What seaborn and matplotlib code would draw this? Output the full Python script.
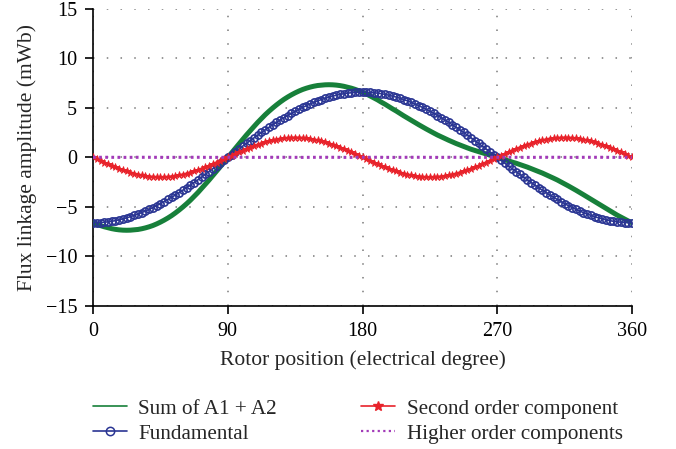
import numpy as np
import pandas as pd
import matplotlib
matplotlib.use("Agg")
import matplotlib.pyplot as plt
from matplotlib.lines import Line2D
import seaborn as sns

# Rotor position in electrical degrees, sampled every 2.5 degrees
angle = np.linspace(0, 360, 145)

# Flux linkage components (mWb)
fundamental = [
    -6.60, -6.59, -6.57, -6.54, -6.50, -6.44, -6.38, -6.29, -6.20, -6.10, -5.98, -5.85, -5.72,
    -5.57, -5.41, -5.24, -5.06, -4.87, -4.67, -4.46, -4.24, -4.02, -3.79, -3.55, -3.30, -3.05,
    -2.79, -2.53, -2.26, -1.98, -1.71, -1.43, -1.15, -0.86, -0.58, -0.29, 0.00,
    0.29, 0.58, 0.86, 1.15, 1.43, 1.71, 1.98, 2.26, 2.53, 2.79, 3.05, 3.30, 3.55, 3.79, 4.02,
    4.24, 4.46, 4.67, 4.87, 5.06, 5.24, 5.41, 5.57, 5.72, 5.85, 5.98, 6.10, 6.20, 6.29, 6.38,
    6.44, 6.50, 6.54, 6.57, 6.59, 6.60,
    6.59, 6.57, 6.54, 6.50, 6.44, 6.38, 6.29, 6.20, 6.10, 5.98, 5.85, 5.72, 5.57, 5.41, 5.24,
    5.06, 4.87, 4.67, 4.46, 4.24, 4.02, 3.79, 3.55, 3.30, 3.05, 2.79, 2.53, 2.26, 1.98, 1.71,
    1.43, 1.15, 0.86, 0.58, 0.29, 0.00,
    -0.29, -0.58, -0.86, -1.15, -1.43, -1.71, -1.98, -2.26, -2.53, -2.79, -3.05, -3.30, -3.55,
    -3.79, -4.02, -4.24, -4.46, -4.67, -4.87, -5.06, -5.24, -5.41, -5.57, -5.72, -5.85, -5.98,
    -6.10, -6.20, -6.29, -6.38, -6.44, -6.50, -6.54, -6.57, -6.59, -6.60,
]

second_order = [
    0.00, -0.17, -0.35, -0.52, -0.68, -0.85, -1.00, -1.15, -1.29, -1.41, -1.53, -1.64, -1.73,
    -1.81, -1.88, -1.93, -1.97, -1.99, -2.00,
    -1.99, -1.97, -1.93, -1.88, -1.81, -1.73, -1.64, -1.53, -1.41, -1.29, -1.15, -1.00, -0.85,
    -0.68, -0.52, -0.35, -0.17, 0.00,
    0.17, 0.35, 0.52, 0.68, 0.85, 1.00, 1.15, 1.29, 1.41, 1.53, 1.64, 1.73, 1.81, 1.88, 1.93,
    1.97, 1.99, 2.00,
    1.99, 1.97, 1.93, 1.88, 1.81, 1.73, 1.64, 1.53, 1.41, 1.29, 1.15, 1.00, 0.85, 0.68, 0.52,
    0.35, 0.17, 0.00,
    -0.17, -0.35, -0.52, -0.68, -0.85, -1.00, -1.15, -1.29, -1.41, -1.53, -1.64, -1.73, -1.81,
    -1.88, -1.93, -1.97, -1.99, -2.00,
    -1.99, -1.97, -1.93, -1.88, -1.81, -1.73, -1.64, -1.53, -1.41, -1.29, -1.15, -1.00, -0.85,
    -0.68, -0.52, -0.35, -0.17, 0.00,
    0.17, 0.35, 0.52, 0.68, 0.85, 1.00, 1.15, 1.29, 1.41, 1.53, 1.64, 1.73, 1.81, 1.88, 1.93,
    1.97, 1.99, 2.00,
    1.99, 1.97, 1.93, 1.88, 1.81, 1.73, 1.64, 1.53, 1.41, 1.29, 1.15, 1.00, 0.85, 0.68, 0.52,
    0.35, 0.17, 0.00,
]

sum_a1_a2 = [
    -6.60, -6.74, -6.88, -7.00, -7.10, -7.19, -7.26, -7.31, -7.34, -7.35, -7.34, -7.31, -7.27,
    -7.20, -7.11, -7.00, -6.87, -6.71, -6.53, -6.33, -6.11, -5.87, -5.60, -5.31, -5.00, -4.67,
    -4.32, -3.94, -3.55, -3.13, -2.71, -2.28, -1.83, -1.38, -0.93, -0.46, 0.00,
    0.46, 0.93, 1.38, 1.83, 2.28, 2.71, 3.13, 3.55, 3.94, 4.32, 4.67, 5.00, 5.31, 5.60, 5.87,
    6.11, 6.33, 6.53, 6.71, 6.87, 7.00, 7.11, 7.20, 7.27, 7.31, 7.34, 7.35, 7.34, 7.31, 7.26,
    7.19, 7.10, 7.00, 6.88, 6.74, 6.60,
    6.42, 6.22, 6.02, 5.82, 5.59, 5.38, 5.14, 4.91, 4.69, 4.45, 4.21, 3.99, 3.76, 3.53, 3.31,
    3.09, 2.88, 2.67, 2.47, 2.27, 2.09, 1.91, 1.74, 1.57, 1.41, 1.26, 1.12, 0.97, 0.83, 0.71,
    0.58, 0.47, 0.34, 0.23, 0.12, 0.00,
    -0.12, -0.23, -0.34, -0.47, -0.58, -0.71, -0.83, -0.97, -1.12, -1.26, -1.41, -1.57, -1.74,
    -1.91, -2.09, -2.27, -2.47, -2.67, -2.88, -3.09, -3.31, -3.53, -3.76, -3.99, -4.21, -4.45,
    -4.69, -4.91, -5.14, -5.38, -5.59, -5.82, -6.02, -6.22, -6.42, -6.60,
]

# Higher order harmonics stay essentially flat at zero
higher_angle = np.linspace(0, 360, 37)
higher_order = [
    0.02, 0.02, 0.01, 0.02, 0.02, 0.01, 0.02, 0.02, 0.01, 0.02, 0.02, 0.01, 0.02,
    0.02, 0.01, 0.02, 0.02, 0.01, 0.02, 0.02, 0.01, 0.02, 0.02, 0.01, 0.02,
    0.02, 0.01, 0.02, 0.02, 0.01, 0.02, 0.02, 0.01, 0.02, 0.02, 0.01, 0.02,
]

x_ticks = [0, 90, 180, 270, 360]
y_ticks = [-15, -10, -5, 0, 5, 10, 15]

labels = ["Sum of A1 + A2", "Fundamental", "Second order component", "Higher order components"]
colors = ["#17803a", "#2a3593", "#e8232b", "#a23ab8"]

sns.set_style("ticks")
plt.rcParams["font.family"] = ["Liberation Serif", "DejaVu Serif"]
plt.rcParams["axes.unicode_minus"] = True

fig = plt.figure(figsize=(6.76, 4.49), dpi=100)
ax = fig.add_axes([0.1376, 0.3185, 0.7975, 0.6615])

sns.lineplot(x=angle, y=sum_a1_a2, ax=ax, color=colors[0], linewidth=3.6,
             sort=False, estimator=None, zorder=3)
sns.lineplot(x=angle, y=fundamental, ax=ax, color=colors[1], linewidth=1.2,
             marker="o", markersize=5.2, markerfacecolor="none",
             markeredgecolor=colors[1], markeredgewidth=1.2,
             sort=False, estimator=None, zorder=4)
sns.lineplot(x=angle, y=second_order, ax=ax, color=colors[2], linewidth=2.0,
             marker="*", markersize=5.5, markeredgecolor=colors[2], markeredgewidth=0.6,
             sort=False, estimator=None, zorder=5)
sns.lineplot(x=higher_angle, y=higher_order, ax=ax, color=colors[3], linewidth=2.2,
             dashes=False, sort=False, estimator=None, zorder=6)
ax.lines[-1].set_linestyle((0, (0.9, 1.1)))

ax.set_xlim(0, 360)
ax.set_ylim(-15, 15)
ax.set_xticks(x_ticks)
ax.set_yticks(y_ticks)
ax.grid(True, color="#7a7a7a", linestyle=(0, (1, 8)), linewidth=1.1)
for side in ("top", "right"):
    ax.spines[side].set_visible(False)
for side in ("left", "bottom"):
    ax.spines[side].set_linewidth(1.2)
    ax.spines[side].set_color("black")
ax.tick_params(direction="out", length=6, width=1.2, colors="black",
               labelsize=14.5, pad=5.5)

ax.set_xlabel("Rotor position (electrical degree)", fontsize=15.5, labelpad=7)
ax.set_ylabel("Flux linkage amplitude (mWb)", fontsize=15.5, labelpad=6)

handles = [
    Line2D([], [], color=colors[0], linewidth=1.2),
    Line2D([], [], color=colors[1], linewidth=1.2, marker="o", markersize=6,
           markerfacecolor="none", markeredgewidth=1.1),
    Line2D([], [], color=colors[2], linewidth=1.2, marker="*", markersize=7),
    Line2D([], [], color=colors[3], linewidth=1.6, linestyle=(0, (1, 1.5))),
]
fig.legend(handles, labels, loc="lower left", bbox_to_anchor=(0.125, -0.007),
           ncol=2, frameon=False, fontsize=15.2, handlelength=1.6,
           handletextpad=0.55, columnspacing=4.0, labelspacing=0.25,
           borderaxespad=0.0, borderpad=0.4)

fig.savefig("out.png", dpi=100)
